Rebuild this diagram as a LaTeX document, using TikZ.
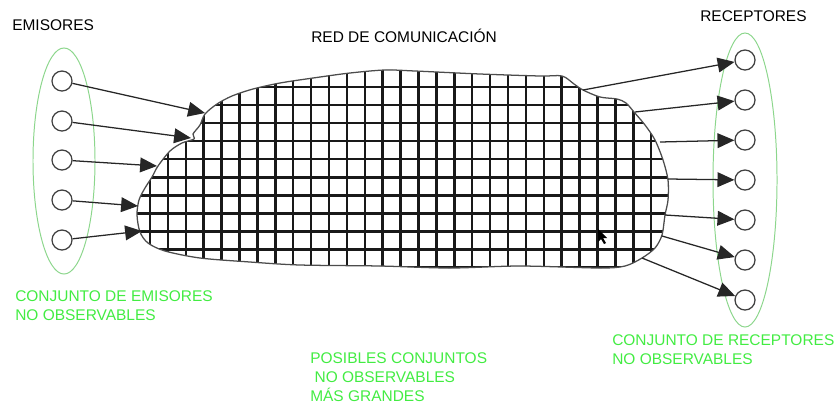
\documentclass[tikz,border=0pt]{standalone}
\usepackage{fontspec}
\setmainfont{Liberation Sans}
\usepackage{tikz}
\usetikzlibrary{arrows.meta}
\definecolor{notegreen}{RGB}{66,236,66}
\definecolor{setgreen}{RGB}{140,214,140}

\begin{document}
\begin{tikzpicture}[x=0.025cm,y=-0.025cm,font=\fontsize{11}{13.2}\selectfont,
  station/.style={circle,draw=black!75,line width=0.9pt,minimum size=0.5cm,inner sep=0pt},
  link/.style={-{Triangle[length=12pt,width=10.5pt]},draw=black!85,line width=0.9pt},
  gridline/.style={line width=1.8pt,black!90},
  caption/.style={anchor=base west,inner sep=0pt,align=left},
  note/.style={caption,text=notegreen}]
\useasboundingbox (0,0) rectangle (840,404);
\draw[draw=black!70,line width=0.9pt,path picture={
  \foreach \k in {-1,...,29} \draw[gridline] ({150+17.9*\k},50) -- ({150+17.9*\k},290);
  \foreach \k in {-1,...,11} \draw[gridline] (120,{87+18.05*\k}) -- (690,{87+18.05*\k});
}] plot[smooth cycle,tension=0.5] coordinates {(205,114) (217,104) (232,96) (253,89) (280,83) (313,78) (350,73) (385,70) (415,71) (480,74) (540,76) (562,76) (574,84) (583,90) (600,97) (617,99) (626,103) (634,112) (645,125) (655,140) (663,160) (668,180) (668,200) (665,215) (662,235) (655,248) (642,258) (625,266) (600,268) (520,266) (450,268) (380,266) (300,265) (250,262) (200,258) (165,251) (148,243) (140,232) (137,215) (139,200) (145,188) (152,177) (158,166) (170,151) (182,143) (194,139) (193,134) (200,125)};
\fill (598,229) -- (598,242) -- (601,239) -- (604,244) -- (606,243) -- (603,238) -- (607,238) -- cycle;
\draw[setgreen,line width=0.7pt] (64,161) ellipse [x radius=0.775cm,y radius=2.825cm];
\draw[setgreen,line width=0.7pt] (745,180) ellipse [x radius=0.8cm,y radius=3.675cm];
\foreach \i/\y in {1/81,2/121,3/160,4/200,5/240} \node[station] (e\i) at (62,\y) {};
\foreach \i in {1,...,7} \node[station] (r\i) at (745,{20+40*\i}) {};
\coordinate (in1) at (205,113);
\coordinate (in2) at (191,138);
\coordinate (in3) at (157,166);
\coordinate (in4) at (138,206);
\coordinate (in5) at (142,231);
\coordinate (out1) at (583,90);
\coordinate (out2) at (635,112);
\coordinate (out3) at (660,142);
\coordinate (out4) at (668,179);
\coordinate (out5) at (665,215);
\coordinate (out6) at (662,236);
\coordinate (out7) at (642,258);
\foreach \i in {1,...,5} \draw[link] (e\i) -- (in\i);
\foreach \i in {1,...,7} \draw[link] (out\i) -- (r\i);
\node[caption] (emisores) at (12,30) {EMISORES};
\node[caption] (red) at (311,42) {RED DE COMUNICACIÓN};
\node[caption] (receptores) at (700,21) {RECEPTORES};
\node[note] (setE) at (15,320) {CONJUNTO DE EMISORES\\NO OBSERVABLES};
\node[note] (setR) at (612,364) {CONJUNTO DE RECEPTORES\\NO OBSERVABLES};
\node[note] (setM) at (310,401) {POSIBLES CONJUNTOS\\\ NO OBSERVABLES\\MÁS GRANDES};
\end{tikzpicture}
\end{document}
